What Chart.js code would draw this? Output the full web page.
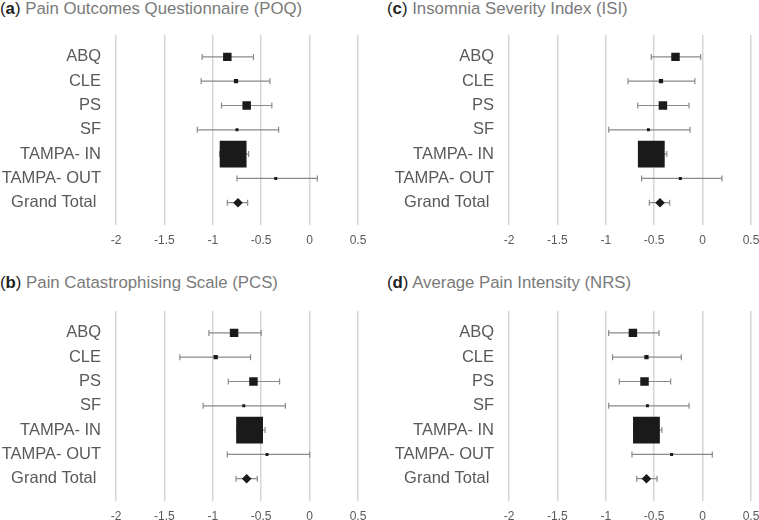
<!DOCTYPE html>
<html>
<head>
<meta charset="utf-8">
<script src="https://cdn.jsdelivr.net/npm/chart.js@4.4.1/dist/chart.umd.min.js"></script>
<style>
  html, body { margin: 0; padding: 0; background: #fff; overflow: hidden; }
  body { width: 759px; height: 520px; position: relative; font-family: "Liberation Sans", Arial, sans-serif; }
  canvas { position: absolute; }
  .ttl { position: absolute; font-size: 16.8px; line-height: 18px; color: #7a7a7a; white-space: nowrap; }
  .ttl span { color: #222; }
</style>
</head>
<body>
<div class="ttl" style="left:0px;top:0px"><span>(<b>a</b>)</span> Pain Outcomes Questionnaire (POQ)</div>
<div class="ttl" style="left:387px;top:0px"><span>(<b>c</b>)</span> Insomnia Severity Index (ISI)</div>
<div class="ttl" style="left:0px;top:274px"><span>(<b>b</b>)</span> Pain Catastrophising Scale (PCS)</div>
<div class="ttl" style="left:387px;top:274px"><span>(<b>d</b>)</span> Average Pain Intensity (NRS)</div>
<canvas id="chartA" width="380" height="260" style="left:0px;top:0px"></canvas>
<canvas id="chartC" width="380" height="260" style="left:393px;top:0px"></canvas>
<canvas id="chartB" width="380" height="260" style="left:0px;top:276px"></canvas>
<canvas id="chartD" width="380" height="260" style="left:393px;top:276px"></canvas>
<script>
// rows, top to bottom
const sites = ['ABQ', 'CLE', 'PS', 'SF', 'TAMPA- IN', 'TAMPA- OUT', 'Grand Total '];
// relative weight of each site (last row is the pooled total)
const siteWeights = [8, 2, 8, 1, 80, 1];
const xTicks = [-2, -1.5, -1, -0.5, 0, 0.5];

// (a) POQ
const poqMean = [-0.85, -0.76, -0.65, -0.75, -0.79, -0.35, -0.74];
const poqLow  = [-1.11, -1.12, -0.91, -1.16, -0.93, -0.75, -0.85];
const poqHigh = [-0.58, -0.41, -0.39, -0.32, -0.63, 0.08, -0.64];

// (b) PCS
const pcsMean = [-0.78, -0.97, -0.58, -0.68, -0.62, -0.44, -0.65];
const pcsLow  = [-1.04, -1.34, -0.84, -1.10, -0.75, -0.85, -0.76];
const pcsHigh = [-0.50, -0.61, -0.31, -0.25, -0.46, 0.00, -0.54];

// (c) ISI
const isiMean = [-0.28, -0.43, -0.41, -0.56, -0.53, -0.23, -0.44];
const isiLow  = [-0.53, -0.77, -0.67, -0.97, -0.66, -0.63, -0.55];
const isiHigh = [-0.02, -0.08, -0.14, -0.13, -0.37, 0.20, -0.34];

// (d) NRS
const nrsMean = [-0.72, -0.58, -0.60, -0.57, -0.58, -0.32, -0.58];
const nrsLow  = [-0.97, -0.93, -0.86, -0.97, -0.71, -0.73, -0.68];
const nrsHigh = [-0.45, -0.22, -0.33, -0.14, -0.42, 0.10, -0.47];

const textGrey = '#595959';

function markerRadius(i) {
    if (i >= siteWeights.length) return 4.8; // diamond
    // square side ~ sqrt(weight), rect side = radius * sqrt(2)
    const side = Math.sqrt(siteWeights[i]) * 3.0;
    return side / Math.SQRT2;
}

function makePanel(id, mean, low, high) {
    const datasets = [];

    // point estimates first so they sit on top
    datasets.push({
        data: mean.map((v, i) => ({ x: v, y: i + 1 })),
        backgroundColor: '#1a1a1a',
        borderWidth: 0,
        pointStyle: mean.map((v, i) => i === sites.length - 1 ? 'rectRot' : 'rect'),
        pointRadius: mean.map((v, i) => markerRadius(i)),
        pointHoverRadius: mean.map((v, i) => markerRadius(i))
    });

    // confidence interval whiskers, one line per row
    sites.forEach((s, i) => {
        datasets.push({
            data: [{ x: low[i], y: i + 1 }, { x: high[i], y: i + 1 }],
            showLine: true,
            borderColor: '#8a8a8a',
            borderWidth: 1.2,
            pointStyle: 'line',
            rotation: 90,
            pointRadius: 3,
            pointBorderColor: '#8a8a8a',
            pointBorderWidth: 1.2
        });
    });

    new Chart(document.getElementById(id), {
        type: 'scatter',
        data: { datasets },
        options: {
            responsive: false,
            animation: false,
            devicePixelRatio: 1,
            layout: { padding: { top: 35, right: 22, bottom: 3, left: 0 } },
            plugins: { legend: { display: false }, tooltip: { enabled: false } },
            scales: {
                x: {
                    min: -2,
                    max: 0.5,
                    afterBuildTicks: (axis) => { axis.ticks = xTicks.map(v => ({ value: v })); },
                    grid: { color: '#d6d6d6', lineWidth: 1.5, drawTicks: false },
                    border: { display: false },
                    ticks: {
                        padding: 9,
                        color: textGrey,
                        font: { family: 'Liberation Sans', size: 12 },
                        maxRotation: 0,
                        autoSkip: false,
                        callback: (v) => String(v)
                    }
                },
                y: {
                    min: 0.1,
                    max: 7.9,
                    reverse: true,
                    afterBuildTicks: (axis) => { axis.ticks = sites.map((s, i) => ({ value: i + 1 })); },
                    afterFit: (axis) => { axis.width = 116; },
                    grid: { display: false, drawTicks: false },
                    border: { display: false },
                    ticks: {
                        padding: 15,
                        color: textGrey,
                        font: { family: 'Liberation Sans', size: 16.5 },
                        autoSkip: false,
                        callback: (v) => sites[v - 1]
                    }
                }
            }
        }
    });
}

makePanel('chartA', poqMean, poqLow, poqHigh);
makePanel('chartB', pcsMean, pcsLow, pcsHigh);
makePanel('chartC', isiMean, isiLow, isiHigh);
makePanel('chartD', nrsMean, nrsLow, nrsHigh);
</script>
</body>
</html>
